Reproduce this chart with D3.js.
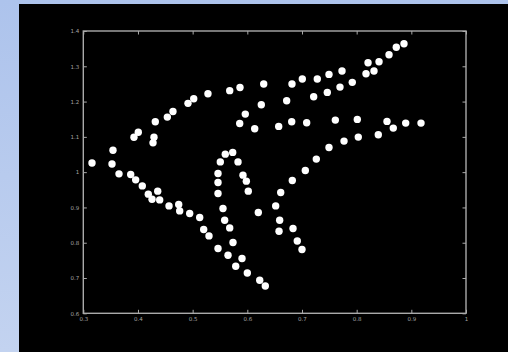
<!DOCTYPE html>
<html>
<head>
<meta charset="utf-8">
<script src="https://cdn.jsdelivr.net/npm/d3@7"></script>
<style>
  html, body { margin: 0; padding: 0; }
  body { width: 508px; height: 352px; overflow: hidden; }
  svg { display: block; }
</style>
</head>
<body>
<script>
// Point coordinates of the scatter
const xValues = [
  0.528, 0.502, 0.4915, 0.464, 0.4537, 0.4317, 0.4006, 0.3927, 0.4293, 0.4275,
  0.3543, 0.3525, 0.3159,
  0.5678, 0.5866, 0.630, 0.6817, 0.7006, 0.728, 0.7494, 0.7732, 0.7695, 0.7463,
  0.7214, 0.672, 0.6256, 0.5963, 0.5861, 0.6135, 0.6574, 0.6812, 0.7086, 0.761,
  0.7494, 0.7262, 0.5597, 0.5733, 0.5506, 0.583,
  0.8866, 0.8725, 0.8592, 0.8409, 0.8208, 0.8317, 0.8171, 0.792, 0.8012, 0.8555,
  0.867, 0.8897, 0.9177, 0.8396, 0.803, 0.7769,
  0.3653, 0.3867, 0.3958, 0.4079, 0.4189, 0.4361, 0.4257, 0.4397, 0.4568, 0.4745,
  0.4763, 0.4946, 0.5129, 0.5202, 0.5299,
  0.5464, 0.5464, 0.5464, 0.5921, 0.5982, 0.6018, 0.5555, 0.5586, 0.5678, 0.5738,
  0.5464, 0.5647, 0.5903, 0.5788, 0.600, 0.6227, 0.6329, 0.6201, 0.6519, 0.6592,
  0.658, 0.6836, 0.6914, 0.700, 0.6611, 0.6823, 0.7061
];
const yValues = [
  1.222, 1.208, 1.195, 1.172, 1.156, 1.143, 1.113, 1.099, 1.099, 1.083,
  1.062, 1.023, 1.026,
  1.231, 1.240, 1.250, 1.250, 1.264, 1.264, 1.277, 1.2865, 1.241, 1.226,
  1.2136, 1.2023, 1.191, 1.1645, 1.138, 1.123, 1.1296, 1.1427, 1.140, 1.1475,
  1.070, 1.037, 1.051, 1.056, 1.029, 1.029,
  1.364, 1.3538, 1.3328, 1.3129, 1.310, 1.2865, 1.279, 1.2545, 1.1495, 1.1438,
  1.1248, 1.139, 1.139, 1.1058, 1.0993, 1.088,
  0.9952, 0.9935, 0.9782, 0.9611, 0.9376, 0.9461, 0.9234, 0.9214, 0.9044, 0.9084,
  0.8902, 0.8828, 0.8715, 0.8374, 0.8193,
  0.9963, 0.9708, 0.9396, 0.9915, 0.9745, 0.9461, 0.897, 0.8638, 0.842, 0.8006,
  0.7835, 0.7645, 0.7552, 0.7333, 0.7143, 0.6936, 0.6774, 0.8857, 0.9044, 0.8638,
  0.8326, 0.8403, 0.8051, 0.7807, 0.9424, 0.9765, 1.0048
];
const xTicks = [0.3, 0.4, 0.5, 0.6, 0.7, 0.8, 0.9, 1];
const yTicks = [0.6, 0.7, 0.8, 0.9, 1, 1.1, 1.2, 1.3, 1.4];

const W = 508, H = 352;
const svg = d3.select("body").append("svg").attr("width", W).attr("height", H);

// Pale blue backdrop
const defs = svg.append("defs");
const grad = defs.append("linearGradient").attr("id", "bg")
  .attr("x1", 0).attr("y1", 0).attr("x2", 0).attr("y2", 1);
grad.append("stop").attr("offset", "0%").attr("stop-color", "#adc3ec");
grad.append("stop").attr("offset", "100%").attr("stop-color", "#c3d3f0");
svg.append("rect").attr("width", W).attr("height", H).attr("fill", "url(#bg)");

// Black figure area
svg.append("rect").attr("x", 19).attr("y", 4).attr("width", W - 19).attr("height", H - 4)
  .attr("fill", "#000");

const plotL = 83.3, plotR = 466, plotT = 31, plotB = 313.3;
const x = d3.scaleLinear().domain([0.3, 1]).range([plotL, plotR]);
const y = d3.scaleLinear().domain([0.6, 1.4]).range([plotB, plotT]);

const fmt = d => String(d);
const axisColor = "#aaaaaa";
const labelColor = "#a4a4a4";

function styleAxis(g, showLabels) {
  g.select(".domain").remove();
  g.selectAll(".tick line").attr("stroke", axisColor).attr("stroke-width", 1);
  g.selectAll(".tick text")
    .attr("fill", labelColor)
    .style("font-family", "'DejaVu Sans', sans-serif")
    .style("font-size", "5.5px")
    .style("display", showLabels ? null : "none");
}

svg.append("g").attr("transform", `translate(0,${plotB})`)
  .call(d3.axisBottom(x).tickValues(xTicks).tickFormat(fmt).tickSize(-3.5).tickPadding(4))
  .call(g => styleAxis(g, true));
svg.append("g").attr("transform", `translate(0,${plotT})`)
  .call(d3.axisTop(x).tickValues(xTicks).tickSize(-3.5))
  .call(g => styleAxis(g, false));
svg.append("g").attr("transform", `translate(${plotL},0)`)
  .call(d3.axisLeft(y).tickValues(yTicks).tickFormat(fmt).tickSize(-3.5).tickPadding(4))
  .call(g => styleAxis(g, true));
svg.append("g").attr("transform", `translate(${plotR},0)`)
  .call(d3.axisRight(y).tickValues(yTicks).tickSize(-3.5))
  .call(g => styleAxis(g, false));

// Plot frame
svg.append("rect")
  .attr("x", plotL).attr("y", plotT)
  .attr("width", plotR - plotL).attr("height", plotB - plotT)
  .attr("fill", "none").attr("stroke", axisColor).attr("stroke-width", 1.4);

// Scatter points
const pts = d3.zip(xValues, yValues);
svg.append("g").selectAll("circle").data(pts).join("circle")
  .attr("cx", d => x(d[0]))
  .attr("cy", d => y(d[1]))
  .attr("r", 3.7)
  .attr("fill", "#ffffff");
</script>
</body>
</html>
